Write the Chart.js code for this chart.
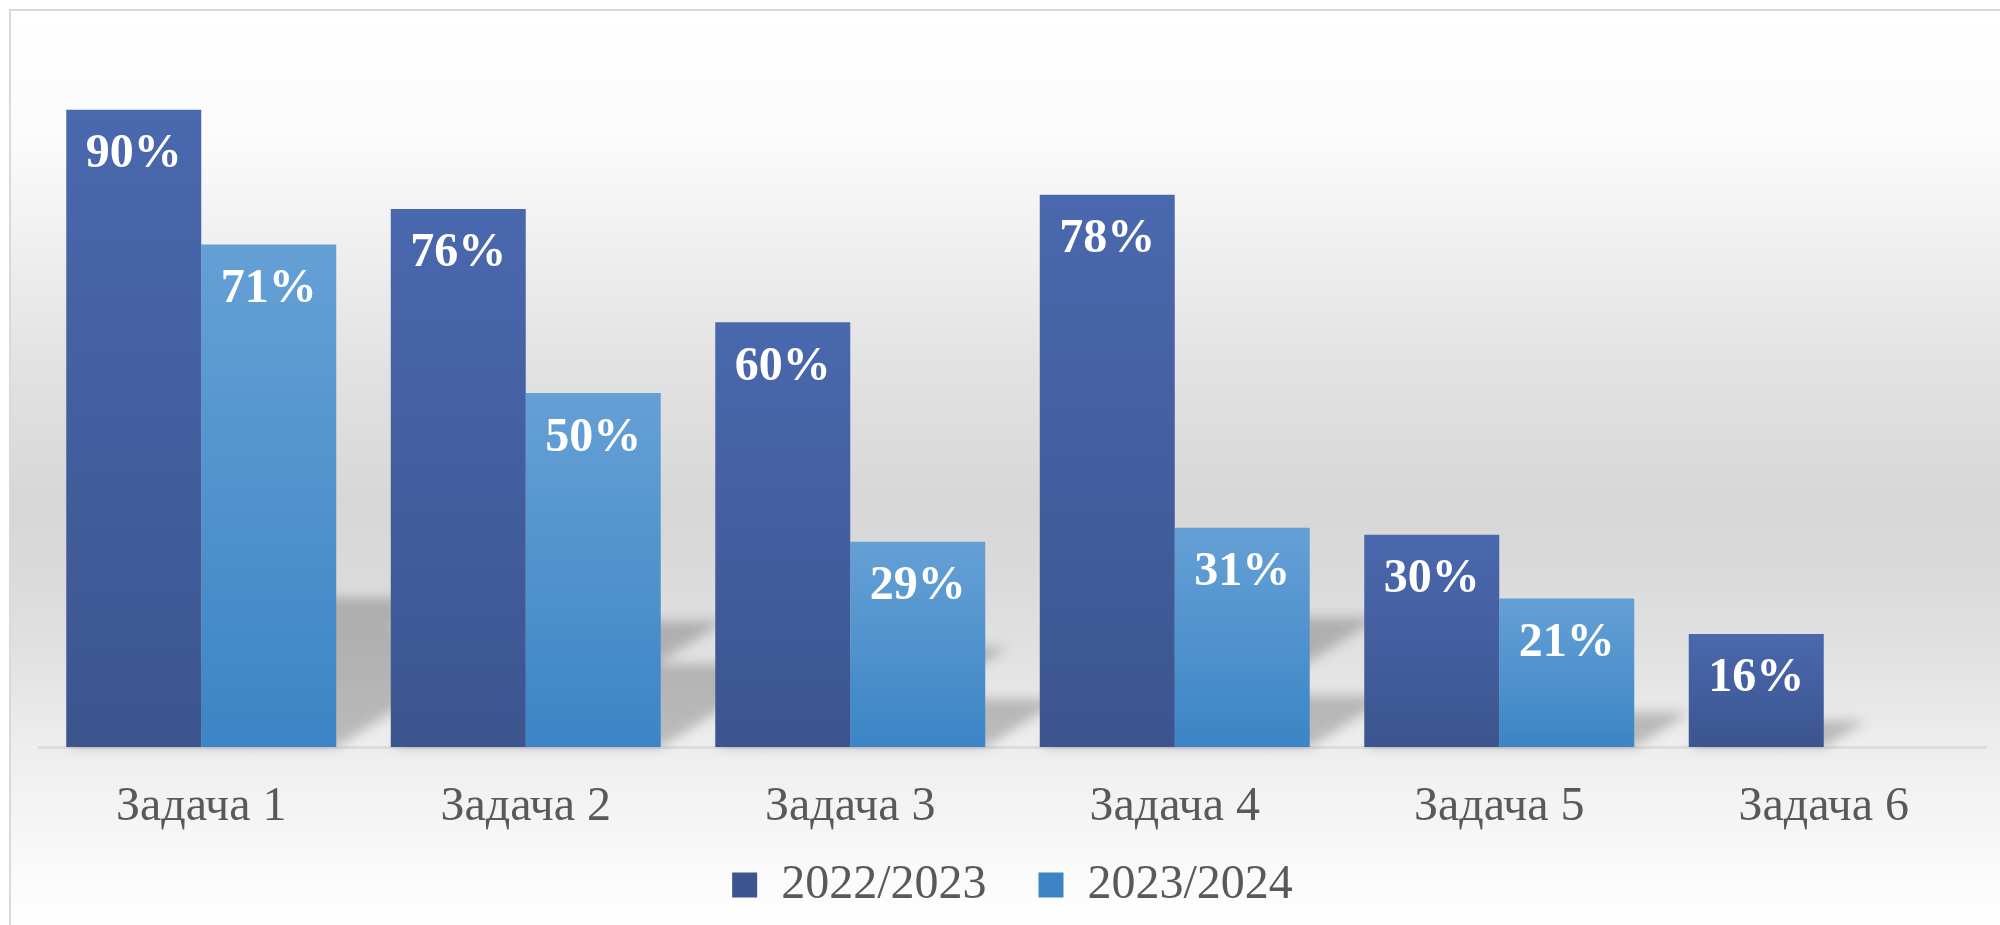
<!DOCTYPE html>
<html>
<head>
<meta charset="utf-8">
<script src="https://cdn.jsdelivr.net/npm/chart.js"></script>
<style>
  html, body { margin: 0; padding: 0; background: #fff; }
  #frame {
    position: absolute; left: 9px; top: 9px; width: 1991px; height: 916px;
    border-top: 2px solid #d9d9d9; border-left: 2px solid #d9d9d9;
    background: linear-gradient(to bottom, #ffffff 0px, #fbfbfb 130px, #f0f0f0 230px, #e3e3e3 345px,
      #d7d7d7 490px, #dadada 560px, #e1e1e1 640px, #ededed 730px, #f4f4f4 800px, #fbfbfb 870px, #ffffff 916px);
  }
  #wrap { position: absolute; left: 0; top: 0; width: 2000px; height: 925px; }
</style>
</head>
<body>
<div id="frame"></div>
<div id="wrap"><canvas id="chart" width="2000" height="925"></canvas></div>
<script>
const categories = ['Задача 1', 'Задача 2', 'Задача 3', 'Задача 4', 'Задача 5', 'Задача 6'];
const seriesNames = ['2022/2023', '2023/2024'];
const values2022 = [90, 76, 60, 78, 30, 16];
const values2023 = [71, 50, 29, 31, 21, null];

const FONT = 'Liberation Serif, "Times New Roman", serif';

function barGradient(ctx, top, bottom) {
  const chart = ctx.chart;
  if (!chart.chartArea || ctx.raw == null || !chart.scales.y) return top;
  const y = chart.scales.y;
  const g = chart.ctx.createLinearGradient(0, y.getPixelForValue(ctx.raw), 0, y.getPixelForValue(0));
  g.addColorStop(0, top);
  g.addColorStop(1, bottom);
  return g;
}

// soft floor shadow behind each bar, skewed back and to the right
const shadowPlugin = {
  id: 'barShadow',
  beforeDatasetsDraw(chart) {
    const c = chart.ctx;
    c.save();
    c.beginPath();
    chart.data.datasets.forEach((ds, i) => {
      chart.getDatasetMeta(i).data.forEach((el, j) => {
        if (ds.data[j] == null) return;
        const h = el.base - el.y;
        const left = el.x - el.width / 2, right = el.x + el.width / 2;
        const dx = h * 0.37, dy = h * 0.235;
        c.moveTo(left, el.base);
        c.lineTo(right, el.base);
        c.lineTo(right + dx, el.base - dy);
        c.lineTo(left + dx, el.base - dy);
        c.closePath();
      });
    });
    c.filter = 'blur(6px)';
    c.fillStyle = 'rgba(0,0,0,0.21)';
    c.fill();
    c.restore();
  }
};

const valueLabels = {
  id: 'valueLabels',
  afterDatasetsDraw(chart) {
    const c = chart.ctx;
    c.save();
    c.font = 'bold 48px ' + FONT;
    c.fillStyle = '#ffffff';
    c.textAlign = 'center';
    c.textBaseline = 'middle';
    chart.data.datasets.forEach((ds, i) => {
      chart.getDatasetMeta(i).data.forEach((el, j) => {
        if (ds.data[j] == null) return;
        c.fillText(ds.data[j] + '%', el.x, el.y + 45);
      });
    });
    c.restore();
  }
};

new Chart(document.getElementById('chart'), {
  type: 'bar',
  data: {
    labels: categories,
    datasets: [
      {
        label: seriesNames[0],
        data: values2022,
        backgroundColor: ctx => barGradient(ctx, '#4a68ae', '#3c558f')
      },
      {
        label: seriesNames[1],
        data: values2023,
        backgroundColor: ctx => barGradient(ctx, '#65a0d5', '#3b85c6')
      }
    ]
  },
  options: {
    responsive: false,
    animation: false,
    categoryPercentage: 0.832,
    barPercentage: 1,
    layout: { padding: { left: 39, right: 14, top: 39, bottom: 6 } },
    scales: {
      x: {
        grid: { display: false, drawTicks: false },
        border: { display: true, color: 'rgba(0,0,0,0.07)', width: 3 },
        ticks: { color: '#595959', padding: 40, font: { family: FONT, size: 48, lineHeight: 0.85 } },
        afterFit(scale) { scale.height -= 11; }
      },
      y: { display: false, min: 0, max: 100 }
    },
    plugins: {
      legend: {
        position: 'bottom',
        labels: {
          boxWidth: 25, boxHeight: 25, padding: 4, color: '#595959',
          font: { family: FONT, size: 48 },
          generateLabels(chart) {
            const items = Chart.defaults.plugins.legend.labels.generateLabels(chart);
            items[0].text += '    ';
            return items;
          }
        }
      },
      tooltip: { enabled: false }
    }
  },
  plugins: [shadowPlugin, valueLabels]
});
</script>
</body>
</html>
